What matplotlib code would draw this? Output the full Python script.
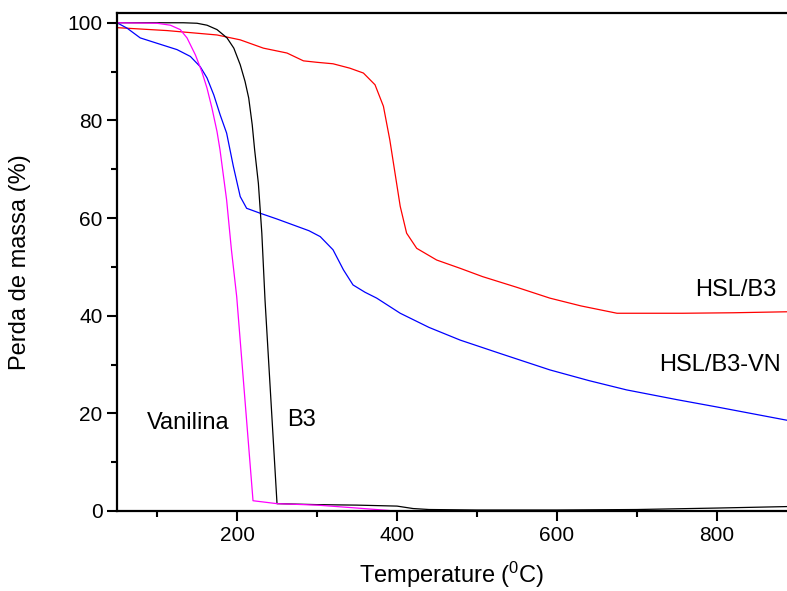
import numpy as np
import matplotlib as mpl
mpl.use("Agg")
from matplotlib import pyplot as plt

plt.rcParams['font.family'] = ['Liberation Sans', 'DejaVu Sans']
plt.rcParams['mathtext.fontset'] = 'custom'
plt.rcParams['mathtext.rm'] = 'Liberation Sans'
plt.rcParams['mathtext.it'] = 'Liberation Sans'

# B3 (black)
b3_t = [50, 100, 133, 150, 162.5, 175, 187.5, 196, 204, 210, 214.6, 219, 222, 226.7, 231, 235, 250,
        300, 350, 400, 420, 440, 500, 600, 700, 800, 887]
b3_m = [100, 100, 100, 99.9, 99.5, 98.6, 96.9, 94.8, 91.4, 88, 84.6, 79.1, 74, 67.1, 56.9, 43.2, 1.5,
        1.3, 1.2, 1.0, 0.5, 0.3, 0.2, 0.2, 0.3, 0.6, 0.9]

# Vanilina (magenta)
van_t = [50, 100, 116.7, 129, 137.5, 148, 156, 162.5, 168.7, 175, 178.7, 187, 193, 199.6, 220,
         250, 300, 350, 390]
van_m = [100, 99.9, 99.5, 98.6, 96.9, 93.4, 90, 86.6, 82.5, 77.7, 74, 63.7, 53.5, 43.9, 2.1,
         1.5, 1.2, 0.6, 0.1]

# HSL/B3-VN (blue)
vn_t = [50, 62.5, 79, 100, 125, 141.7, 154, 162.5, 171, 179, 187, 195.4, 204, 212, 228.7, 250, 270,
        290, 304, 320, 333, 345, 360, 374.6, 404, 440, 479, 530, 591, 640, 687, 750, 800, 887]
vn_m = [100, 98.9, 96.9, 95.8, 94.5, 93.1, 91, 88.7, 85.2, 81.1, 77.4, 70.6, 64.4, 62, 61, 59.8, 58.6,
        57.4, 56.2, 53.5, 49.4, 46.3, 44.8, 43.6, 40.5, 37.6, 35, 32.2, 28.9, 26.7, 24.8, 22.8, 21.3, 18.6]

# HSL/B3 (red)
hb_t = [50, 112.5, 175, 204, 233, 262.5, 283, 300, 320, 341, 358, 372.5, 383, 391, 397.5, 404, 412,
        424.6, 449.6, 479, 507, 550, 591, 630, 675, 757, 820, 887]
hb_m = [99, 98.4, 97.5, 96.5, 94.8, 93.8, 92.2, 91.9, 91.6, 90.7, 89.7, 87.3, 82.9, 76, 69.2, 62.4, 56.9,
        53.8, 51.4, 49.7, 48, 45.8, 43.6, 42, 40.5, 40.5, 40.6, 40.8]

labels = ["HSL/B3", "HSL/B3-VN", "Vanilina", "B3"]
label_t = [824, 804, 139, 281]
label_m = [45.3, 29.9, 18, 18.6]

fig = plt.figure(figsize=(7.87, 5.91), dpi=100)
ax = fig.add_axes([0.1487, 0.1354, 0.8513, 0.8426])

ax.plot(hb_t, hb_m, color="red", lw=0.9)
ax.plot(vn_t, vn_m, color="blue", lw=0.9)
ax.plot(b3_t, b3_m, color="black", lw=0.9)
ax.plot(van_t, van_m, color="magenta", lw=0.9)

for txt, x, y in zip(labels, label_t, label_m):
    ax.text(x, y, txt, fontsize=17, ha="center", va="center")

ax.set_xlim(50, 887.5)
ax.set_ylim(0, 102)
ax.set_xticks([200, 400, 600, 800])
ax.set_xticks([100, 300, 500, 700], minor=True)
ax.set_yticks([0, 20, 40, 60, 80, 100])
ax.set_yticks([10, 30, 50, 70, 90], minor=True)
ax.tick_params(which="major", direction="out", length=7, width=1.5, labelsize=15)
ax.tick_params(which="minor", direction="out", length=4, width=1.5)
for s in ax.spines.values():
    s.set_linewidth(1.6)
ax.spines["right"].set_visible(False)

ax.set_xlabel(r"Temperature ($^{0}$C)", fontsize=17, labelpad=11)
ax.set_ylabel("Perda de massa (%)", fontsize=17, labelpad=26)

fig.savefig("out.png", dpi=100)
